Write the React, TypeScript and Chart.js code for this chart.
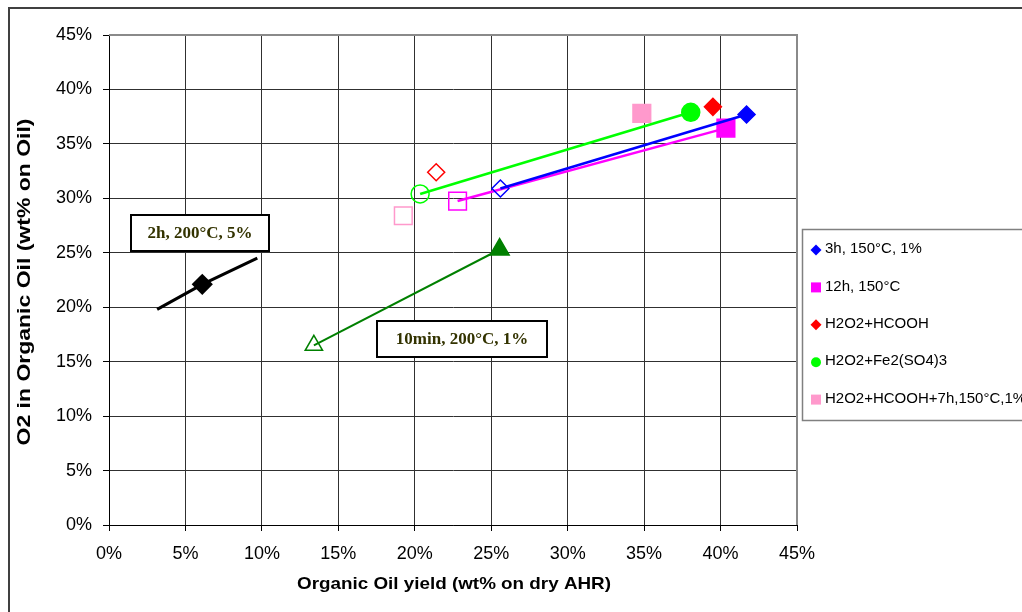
import React, { useEffect, useRef } from 'react';
import { Chart, registerables } from 'chart.js';

Chart.register(...registerables);

// ---- data (values in percent) ----
const xTicksMax = 45;
const yTicksMax = 45;
const tickStep = 5;

const legendLabels = ['3h, 150°C, 1%', '12h, 150°C', 'H2O2+HCOOH', 'H2O2+Fe2(SO4)3', 'H2O2+HCOOH+7h,150°C,1%'];

const blueX = [25.6, 41.7];
const blueY = [30.9, 37.7];
const magentaX = [22.8, 40.35];
const magentaY = [29.75, 36.45];
const redX = [21.4, 39.5];
const redY = [32.4, 38.4];
const greenX = [20.35, 38.05];
const greenY = [30.4, 37.9];
const pinkX = [19.25, 34.85];
const pinkY = [28.4, 37.8];

const blackX = [3.15, 6.1, 9.7];
const blackY = [19.8, 22.1, 24.5];
const triX = [13.4, 25.55];
const triY = [16.5, 25.3];

const annot1 = '2h, 200°C, 5%';
const annot2 = '10min, 200°C, 1%';
const xTitle = 'Organic Oil yield (wt% on dry AHR)';
const yTitle = 'O2 in Organic Oil (wt% on Oil)';

const pts = (xs: number[], ys: number[]) => xs.map((x, i) => ({ x, y: ys[i] }));

const SANS = '"Liberation Sans", Arial, sans-serif';
const SERIF = '"Liberation Serif", "Times New Roman", serif';

function stretchedText(ctx: CanvasRenderingContext2D, text: string, cx: number, cy: number, target: number, rot: number) {
  ctx.save();
  ctx.translate(cx, cy);
  ctx.rotate(rot);
  const w = ctx.measureText(text).width;
  ctx.scale(target / w, 1);
  ctx.textAlign = 'center';
  ctx.textBaseline = 'middle';
  ctx.fillText(text, 0, 0);
  ctx.restore();
}

const decor = {
  id: 'decor',
  beforeDatasetsDraw(chart: any) {
    const ctx = chart.ctx as CanvasRenderingContext2D;
    const a = chart.chartArea;
    ctx.save();
    ctx.strokeStyle = '#8a8a8a';
    ctx.lineWidth = 2;
    ctx.beginPath();
    ctx.moveTo(a.left, a.top);
    ctx.lineTo(a.right, a.top);
    ctx.lineTo(a.right, a.bottom);
    ctx.stroke();
    ctx.restore();
  },
  afterDraw(chart: any) {
    const ctx = chart.ctx as CanvasRenderingContext2D;
    ctx.save();
    // outer frame
    ctx.strokeStyle = '#404040';
    ctx.lineWidth = 2;
    ctx.beginPath();
    ctx.moveTo(9, 640);
    ctx.lineTo(9, 8);
    ctx.lineTo(1040, 8);
    ctx.stroke();

    // axis titles
    ctx.fillStyle = '#000';
    ctx.font = `bold 18px ${SANS}`;
    stretchedText(ctx, yTitle, 25, 282, 327, -Math.PI / 2);
    ctx.font = `bold 17px ${SANS}`;
    stretchedText(ctx, xTitle, 454, 584, 314, 0);

    // annotations
    const boxes = [
      { t: annot1, l: 131, tp: 215, r: 269, b: 251 },
      { t: annot2, l: 377, tp: 321, r: 547, b: 357 },
    ];
    for (const bx of boxes) {
      ctx.fillStyle = '#fff';
      ctx.fillRect(bx.l, bx.tp, bx.r - bx.l, bx.b - bx.tp);
      ctx.strokeStyle = '#000';
      ctx.lineWidth = 2;
      ctx.strokeRect(bx.l, bx.tp, bx.r - bx.l, bx.b - bx.tp);
      ctx.fillStyle = '#333300';
      ctx.font = `bold 17px ${SERIF}`;
      ctx.textAlign = 'center';
      ctx.textBaseline = 'middle';
      ctx.fillText(bx.t, (bx.l + bx.r) / 2, (bx.tp + bx.b) / 2 + 1);
    }

    // legend
    ctx.fillStyle = '#fff';
    ctx.fillRect(802, 229, 240, 191);
    ctx.strokeStyle = '#808080';
    ctx.lineWidth = 1.5;
    ctx.strokeRect(802.5, 229.5, 240, 191);
    const n = legendLabels.length;
    for (let i = 0; i < n; i++) {
      const ds = chart.data.datasets[i];
      const cy = 250 + i * 37.4;
      const cx = 816;
      const col = ds.borderColor as string;
      ctx.fillStyle = col;
      ctx.beginPath();
      const st = ds.pointStyle as string;
      if (st === 'rectRot') {
        ctx.moveTo(cx, cy - 5.5);
        ctx.lineTo(cx + 5.5, cy);
        ctx.lineTo(cx, cy + 5.5);
        ctx.lineTo(cx - 5.5, cy);
        ctx.closePath();
      } else if (st === 'rect') {
        ctx.rect(cx - 5, cy - 5, 10, 10);
      } else {
        ctx.arc(cx, cy, 5, 0, Math.PI * 2);
      }
      ctx.fill();
      ctx.fillStyle = '#000';
      ctx.font = `15px ${SANS}`;
      ctx.textAlign = 'left';
      ctx.textBaseline = 'middle';
      ctx.fillText(legendLabels[i], 825, cy - 1);
    }
    ctx.restore();
  },
};

function seriesDataset(label: string, xs: number[], ys: number[], color: string, style: string, radius: number, line: boolean) {
  return {
    label,
    data: pts(xs, ys),
    showLine: line,
    borderColor: color,
    borderWidth: 2.5,
    pointStyle: style,
    pointRadius: radius,
    pointHoverRadius: radius,
    pointBackgroundColor: ['rgba(255,255,255,0)', color],
    pointBorderColor: color,
    pointBorderWidth: 1.5,
  };
}

export default function App() {
  const ref = useRef<HTMLCanvasElement | null>(null);
  useEffect(() => {
    if (!ref.current) return;
    const chart = new Chart(ref.current, {
      type: 'scatter',
      data: {
        datasets: [
          seriesDataset(legendLabels[0], blueX, blueY, '#0000FF', 'rectRot', 8.5, true),
          seriesDataset(legendLabels[1], magentaX, magentaY, '#FF00FF', 'rect', 12.5, true),
          seriesDataset(legendLabels[2], redX, redY, '#FF0000', 'rectRot', 8.5, false),
          seriesDataset(legendLabels[3], greenX, greenY, '#00FF00', 'circle', 9, true),
          seriesDataset(legendLabels[4], pinkX, pinkY, '#FF99CC', 'rect', 12.5, false),
          {
            label: 'black',
            data: pts(blackX, blackY),
            showLine: true,
            borderColor: '#000',
            borderWidth: 3,
            pointStyle: 'rectRot',
            pointRadius: [0, 8.5, 0],
            pointBackgroundColor: '#000',
            pointBorderColor: '#000',
          },
          {
            label: 'tri',
            data: pts(triX, triY),
            showLine: true,
            borderColor: '#008000',
            borderWidth: 2,
            pointStyle: 'triangle',
            pointRadius: [10, 11],
            pointBackgroundColor: ['rgba(255,255,255,0)', '#008000'],
            pointBorderColor: '#008000',
            pointBorderWidth: 1.5,
          },
        ],
      },
      options: {
        responsive: false,
        animation: false,
        layout: { padding: { left: 0, top: 35, right: 225, bottom: 0 } },
        plugins: { legend: { display: false }, tooltip: { enabled: false }, title: { display: false } },
        scales: {
          x: {
            type: 'linear',
            min: 0,
            max: xTicksMax,
            ticks: {
              stepSize: tickStep,
              callback: (v: any) => `${v}%`,
              color: '#000',
              font: { family: SANS, size: 18 },
              padding: 12,
              maxRotation: 0,
            },
            grid: { color: '#303030', lineWidth: 1, tickLength: 6, tickColor: '#000' },
            border: { color: '#000', width: 1 },
            afterFit: (s: any) => { s.height = 87; },
          },
          y: {
            type: 'linear',
            min: 0,
            max: yTicksMax,
            ticks: {
              stepSize: tickStep,
              callback: (v: any) => `${v}%`,
              color: '#000',
              font: { family: SANS, size: 18 },
              padding: 11,
            },
            grid: { color: '#303030', lineWidth: 1, tickLength: 6, tickColor: '#000' },
            border: { color: '#000', width: 1 },
            afterFit: (s: any) => { s.width = 109; },
          },
        },
      },
      plugins: [decor],
    } as any);
    return () => chart.destroy();
  }, []);
  return (
    <div style={{ position: 'fixed', left: 0, top: 0, width: 1022, height: 612, background: '#fff' }}>
      <canvas ref={ref} width={1022} height={612} style={{ width: 1022, height: 612, display: 'block' }} />
    </div>
  );
}
